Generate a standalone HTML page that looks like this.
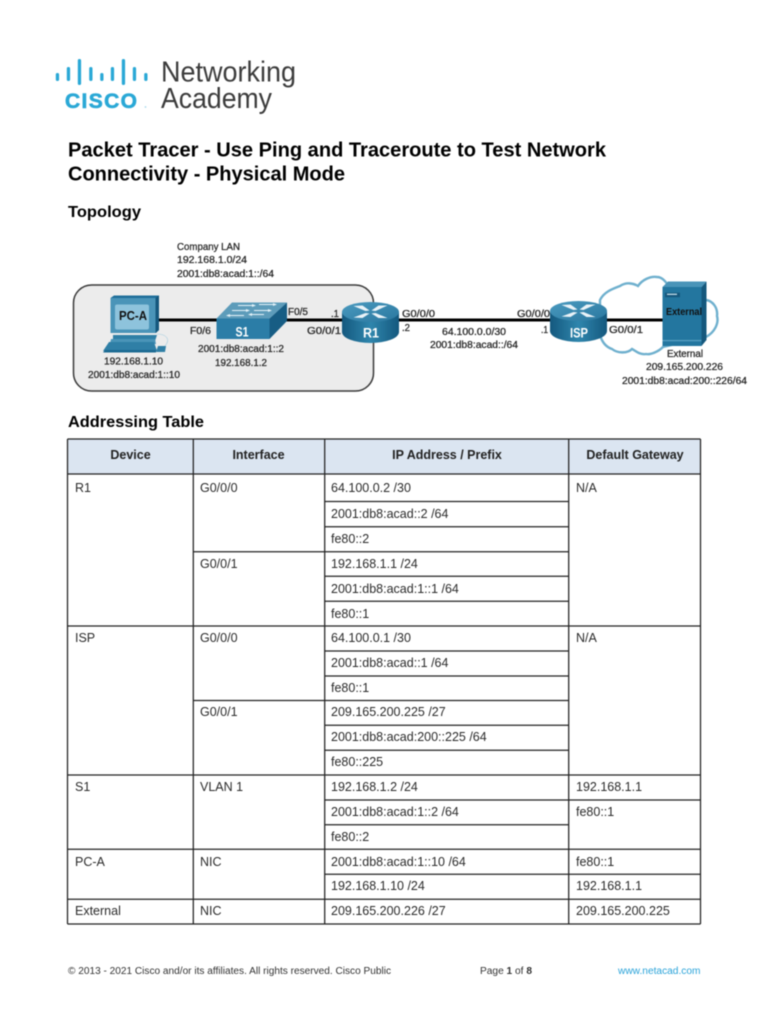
<!DOCTYPE html>
<html><head><meta charset="utf-8"><title>Packet Tracer - Use Ping and Traceroute</title>
<style>
html,body{margin:0;padding:0;background:#fff;width:768px;height:1024px;overflow:hidden}
svg{display:block;filter:blur(.42px)}
text{font-family:"Liberation Sans",sans-serif}
.t{font-size:12.5px;fill:#2b2b2b}
.h{font-size:12.5px;font-weight:bold;fill:#222;text-anchor:middle}
.l{font-size:10px;fill:#2a2a2a;stroke:#2a2a2a;stroke-width:.28}
.w{font-weight:bold;fill:#fff;font-size:13.5px}
.ln line{stroke:#222;stroke-width:1.25}
</style></head><body>
<svg width="768" height="1024" viewBox="0 0 768 1024" xmlns="http://www.w3.org/2000/svg">
<defs>
<linearGradient id="body" x1="0" x2="1" y1="0" y2="0"><stop offset="0" stop-color="#14587e"/><stop offset=".5" stop-color="#2f86ad"/><stop offset="1" stop-color="#14587e"/></linearGradient>
<linearGradient id="top" x1="0" x2="1" y1="0" y2="1"><stop offset="0" stop-color="#4a9abf"/><stop offset="1" stop-color="#2a779f"/></linearGradient>
<g id="router">
<path d="M-28.500 -7V13A28.500 11 0 0 0 28.500 13V-7Z" fill="url(#body)"/>
<ellipse cx="0" cy="-7" rx="28.500" ry="10" fill="url(#top)"/>
<path d="M-17 -13L-8 -13.500L-1 -8.500L-5 -8Z M17 -13.500L8 -13.500L1 -8.500L5 -8Z M-17 -1.500L-8 -1L-1 -5.500L-5 -6Z M17 -1L8 -1L1 -5.500L5 -6Z" fill="#eaf3f8"/>
</g>
</defs>

<!-- Logo -->
<g fill="#2aa8d6">
<rect x="55.800" y="73" width="3.300" height="8" rx="1.600"/>
<rect x="66.800" y="67" width="3.300" height="14" rx="1.600"/>
<rect x="77.800" y="59" width="3.300" height="26" rx="1.600"/>
<rect x="89.200" y="67" width="3.300" height="14" rx="1.600"/>
<rect x="100.200" y="73" width="3.300" height="8" rx="1.600"/>
<rect x="110.800" y="67" width="3.300" height="14" rx="1.600"/>
<rect x="121.800" y="59" width="3.300" height="26" rx="1.600"/>
<rect x="132.800" y="67" width="3.300" height="14" rx="1.600"/>
<rect x="144.200" y="73" width="3.300" height="8" rx="1.600"/>
</g>
<text x="65" y="108" font-size="21" font-weight="bold" fill="#2aa8d6" stroke="#2aa8d6" stroke-width=".6" textLength="72" lengthAdjust="spacing">CISCO</text>
<circle cx="145.500" cy="107" r=".9" fill="#a8d9ec"/>
<text x="161" y="81.500" font-size="29" fill="#3c3c3c" textLength="135" lengthAdjust="spacingAndGlyphs">Networking</text>
<text x="161" y="108" font-size="29" fill="#3c3c3c" textLength="111" lengthAdjust="spacingAndGlyphs">Academy</text>

<!-- Headings -->
<text x="68" y="156.500" font-size="20" font-weight="bold" fill="#000" textLength="538" lengthAdjust="spacingAndGlyphs">Packet Tracer - Use Ping and Traceroute to Test Network</text>
<text x="68" y="180.500" font-size="20" font-weight="bold" fill="#000" textLength="277" lengthAdjust="spacingAndGlyphs">Connectivity - Physical Mode</text>
<text x="68" y="217" font-size="16" font-weight="bold" fill="#000" textLength="73" lengthAdjust="spacingAndGlyphs">Topology</text>
<text x="68" y="427" font-size="16" font-weight="bold" fill="#000" textLength="136" lengthAdjust="spacingAndGlyphs">Addressing Table</text>

<!-- Topology -->
<text class="l" x="177" y="250" textLength="63" lengthAdjust="spacingAndGlyphs">Company LAN</text>
<text class="l" x="177" y="263" textLength="70" lengthAdjust="spacingAndGlyphs">192.168.1.0/24</text>
<text class="l" x="177" y="277" textLength="97" lengthAdjust="spacingAndGlyphs">2001:db8:acad:1::/64</text>
<rect x="73.500" y="285" width="300" height="106" rx="18" fill="#ececec" stroke="#3a3a3a" stroke-width="1.500"/>

<!-- cloud -->
<path d="M600 300C604 292 612 289 620 286C626 282 633 283 638 286C642 280 650 276 657 277C662 277 665 281 668 285L706 300C713 301 718 308 717 316C719 323 715 332 706 337L663 347C658 352 650 355 646 354C640 355 636 351 632 349C627 354 617 353 612 349C606 347 602 342 600 335Z" fill="#fff" stroke="#6fb0ce" stroke-width="2.400"/>

<!-- links -->
<g stroke="#000" stroke-width="3">
<line x1="159" y1="320" x2="222" y2="320"/>
<line x1="280" y1="320" x2="345" y2="320"/>
<line x1="396" y1="320" x2="553" y2="320"/>
<line x1="604" y1="320" x2="664" y2="320"/>
</g>

<!-- PC-A -->
<path d="M110.500 298L114 295.500H159V330L156 333H110.500Z" fill="#1f6f9a"/>
<path d="M110.500 298H155.500V333H110.500Z" fill="#4a94b8"/>
<path d="M155.500 298L159 295.500V330L155.500 333Z" fill="#15587d"/>
<rect x="115" y="304.500" width="34" height="25" rx="2" fill="#8ec3dc"/>
<path d="M113 335H157L155 341H113Z" fill="#2f7fa6"/>
<path d="M111 339H155L156 344H110Z" fill="#4a94b8"/>
<path d="M109 342H154L157 351H103Z" fill="#2f7fa6"/>
<path d="M105 350H156V352.500H103Z" fill="#1c6a92"/>
<path d="M158 346L166 346L165 352L156 352Z" fill="#2f7fa6"/>
<path d="M157 334C166 334 171 339 165 346" fill="none" stroke="#a9cfe0" stroke-width=".6"/>
<text x="119" y="320" font-size="13" font-weight="bold" fill="#111" textLength="28" lengthAdjust="spacingAndGlyphs">PC-A</text>

<!-- S1 -->
<path d="M216.500 318.500L232 302.500H287L269.500 318.500Z" fill="#5d9cba"/>
<path d="M216.500 318.500H269.500V339H216.500Z" fill="#2b7da7"/>
<path d="M269.500 318.500L287 302.500V321L269.500 339Z" fill="#175d84"/>
<g fill="#e6f3f9">
<path d="M238 305H252V304L256 305.500L252 307V306H238Z"/>
<path d="M259 306H273V305L277 306.500L273 308V307H259Z" transform="translate(0,-2)"/>
<path d="M232 310H246V309L250 310.500L246 312V311H232Z"/>
<path d="M254 310H268V309L272 310.500L268 312V311H254Z"/>
<path d="M226 315.500L230 314V315H244V316H230V317Z"/>
<path d="M248 314.500L252 313V314H264V315H252V316Z"/>
</g>
<text class="w" x="235.500" y="336.500" textLength="13" lengthAdjust="spacingAndGlyphs">S1</text>

<!-- routers -->
<use href="#router" x="370.500" y="319"/>
<text class="w" x="363" y="337.500" textLength="16" lengthAdjust="spacingAndGlyphs">R1</text>
<use href="#router" x="578.500" y="318"/>
<text class="w" x="570" y="337.500" textLength="18" lengthAdjust="spacingAndGlyphs">ISP</text>

<!-- server -->
<path d="M662.500 287L668 281.500H706.500L701.500 287Z" fill="#4a94b8"/>
<path d="M701.500 287L706.500 281.500V340L701.500 346Z" fill="#15587d"/>
<rect x="662.500" y="287" width="39" height="59" fill="#23769f"/>
<rect x="662.500" y="340" width="39" height="1.200" fill="#5ba2c4"/>
<rect x="665" y="292.700" width="15" height="4.500" fill="#15587d"/>
<rect x="667" y="293.700" width="10" height="1.200" fill="#cfe6f1"/>
<text x="666" y="315" font-size="10.500" font-weight="bold" fill="#111" textLength="36" lengthAdjust="spacingAndGlyphs">External</text>

<!-- labels -->
<text class="l" x="104" y="364.500" textLength="59" lengthAdjust="spacingAndGlyphs">192.168.1.10</text>
<text class="l" x="88" y="378" textLength="92" lengthAdjust="spacingAndGlyphs">2001:db8:acad:1::10</text>
<text class="l" x="190" y="334" textLength="21" lengthAdjust="spacingAndGlyphs">F0/6</text>
<text class="l" x="288" y="315" textLength="20" lengthAdjust="spacingAndGlyphs">F0/5</text>
<text class="l" x="331" y="317" textLength="8" lengthAdjust="spacingAndGlyphs">.1</text>
<text class="l" x="307" y="334" textLength="34" lengthAdjust="spacingAndGlyphs">G0/0/1</text>
<text class="l" x="198" y="352" textLength="86" lengthAdjust="spacingAndGlyphs">2001:db8:acad:1::2</text>
<text class="l" x="215" y="366" textLength="52" lengthAdjust="spacingAndGlyphs">192.168.1.2</text>
<text class="l" x="402" y="317" textLength="33" lengthAdjust="spacingAndGlyphs">G0/0/0</text>
<text class="l" x="402" y="331" textLength="8" lengthAdjust="spacingAndGlyphs">.2</text>
<text class="l" x="442" y="335" textLength="64" lengthAdjust="spacingAndGlyphs">64.100.0.0/30</text>
<text class="l" x="430" y="348" textLength="88" lengthAdjust="spacingAndGlyphs">2001:db8:acad::/64</text>
<text class="l" x="517" y="317" textLength="33" lengthAdjust="spacingAndGlyphs">G0/0/0</text>
<text class="l" x="541" y="333" textLength="7" lengthAdjust="spacingAndGlyphs">.1</text>
<text class="l" x="609" y="333" textLength="34" lengthAdjust="spacingAndGlyphs">G0/0/1</text>
<text class="l" x="667" y="357" textLength="36" lengthAdjust="spacingAndGlyphs">External</text>
<text class="l" x="646" y="370" textLength="77" lengthAdjust="spacingAndGlyphs">209.165.200.226</text>
<text class="l" x="622" y="384" textLength="125" lengthAdjust="spacingAndGlyphs">2001:db8:acad:200::226/64</text>

<!-- Table -->
<rect x="68" y="439" width="633" height="35" fill="#dbe5f1"/>
<g class="ln">
<line x1="67.500" y1="439" x2="700.500" y2="439"/>
<line x1="67.500" y1="474" x2="700.500" y2="474"/>
<line x1="67.500" y1="626" x2="700.500" y2="626"/>
<line x1="67.500" y1="775" x2="700.500" y2="775"/>
<line x1="67.500" y1="849.300" x2="700.500" y2="849.300"/>
<line x1="67.500" y1="899.300" x2="700.500" y2="899.300"/>
<line x1="67.500" y1="924" x2="700.500" y2="924"/>
<line x1="193.300" y1="551.700" x2="568.700" y2="551.700"/>
<line x1="193.300" y1="700.500" x2="568.700" y2="700.500"/>
<line x1="324.700" y1="501.500" x2="568.700" y2="501.500"/>
<line x1="324.700" y1="526.700" x2="568.700" y2="526.700"/>
<line x1="324.700" y1="576.300" x2="568.700" y2="576.300"/>
<line x1="324.700" y1="601.300" x2="568.700" y2="601.300"/>
<line x1="324.700" y1="651" x2="568.700" y2="651"/>
<line x1="324.700" y1="676" x2="568.700" y2="676"/>
<line x1="324.700" y1="725.300" x2="568.700" y2="725.300"/>
<line x1="324.700" y1="750.300" x2="568.700" y2="750.300"/>
<line x1="324.700" y1="800" x2="700.500" y2="800"/>
<line x1="324.700" y1="824.700" x2="568.700" y2="824.700"/>
<line x1="324.700" y1="874.300" x2="700.500" y2="874.300"/>
<line x1="67.500" y1="439" x2="67.500" y2="924"/>
<line x1="193.300" y1="439" x2="193.300" y2="924"/>
<line x1="324.700" y1="439" x2="324.700" y2="924"/>
<line x1="568.700" y1="439" x2="568.700" y2="924"/>
<line x1="700.500" y1="439" x2="700.500" y2="924"/>
</g>
<text class="h" x="130.500" y="459">Device</text>
<text class="h" x="258.500" y="459">Interface</text>
<text class="h" x="447" y="459">IP Address / Prefix</text>
<text class="h" x="635" y="459">Default Gateway</text>

<text class="t" x="75" y="492">R1</text>
<text class="t" x="200" y="492">G0/0/0</text>
<text class="t" x="331" y="492">64.100.0.2 /30</text>
<text class="t" x="576" y="492">N/A</text>
<text class="t" x="331" y="518">2001:db8:acad::2 /64</text>
<text class="t" x="331" y="543">fe80::2</text>
<text class="t" x="200" y="568">G0/0/1</text>
<text class="t" x="331" y="568">192.168.1.1 /24</text>
<text class="t" x="331" y="593">2001:db8:acad:1::1 /64</text>
<text class="t" x="331" y="618">fe80::1</text>
<text class="t" x="75" y="642">ISP</text>
<text class="t" x="200" y="642">G0/0/0</text>
<text class="t" x="331" y="642">64.100.0.1 /30</text>
<text class="t" x="576" y="642">N/A</text>
<text class="t" x="331" y="667">2001:db8:acad::1 /64</text>
<text class="t" x="331" y="692">fe80::1</text>
<text class="t" x="200" y="716">G0/0/1</text>
<text class="t" x="331" y="716">209.165.200.225 /27</text>
<text class="t" x="331" y="741">2001:db8:acad:200::225 /64</text>
<text class="t" x="331" y="766">fe80::225</text>
<text class="t" x="75" y="791">S1</text>
<text class="t" x="200" y="791">VLAN 1</text>
<text class="t" x="331" y="791">192.168.1.2 /24</text>
<text class="t" x="576" y="791">192.168.1.1</text>
<text class="t" x="331" y="816">2001:db8:acad:1::2 /64</text>
<text class="t" x="576" y="816">fe80::1</text>
<text class="t" x="331" y="841">fe80::2</text>
<text class="t" x="75" y="866">PC-A</text>
<text class="t" x="200" y="866">NIC</text>
<text class="t" x="331" y="866">2001:db8:acad:1::10 /64</text>
<text class="t" x="576" y="866">fe80::1</text>
<text class="t" x="331" y="890">192.168.1.10 /24</text>
<text class="t" x="576" y="890">192.168.1.1</text>
<text class="t" x="75" y="915">External</text>
<text class="t" x="200" y="915">NIC</text>
<text class="t" x="331" y="915">209.165.200.226 /27</text>
<text class="t" x="576" y="915">209.165.200.225</text>

<!-- Footer -->
<text x="68" y="974" font-size="10" fill="#333" textLength="323" lengthAdjust="spacingAndGlyphs">© 2013 - 2021 Cisco and/or its affiliates. All rights reserved. Cisco Public</text>
<text x="480" y="974" font-size="10" fill="#333" textLength="52" lengthAdjust="spacingAndGlyphs">Page <tspan font-weight="bold">1</tspan> of <tspan font-weight="bold">8</tspan></text>
<text x="618" y="974" font-size="10" fill="#2aa3d9" textLength="82.500" lengthAdjust="spacingAndGlyphs">www.netacad.com</text>
</svg>
</body></html>
